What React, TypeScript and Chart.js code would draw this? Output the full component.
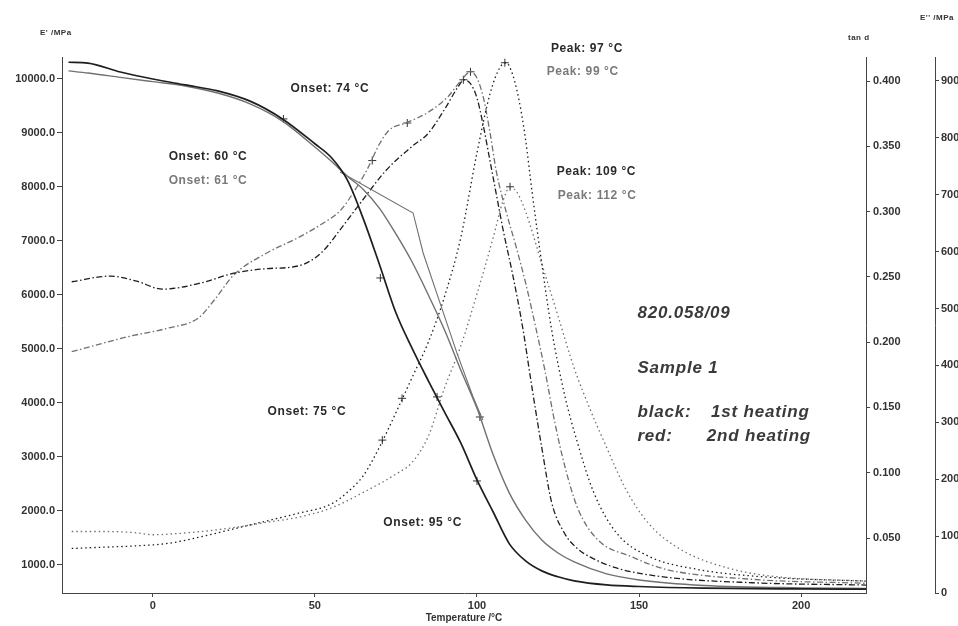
import React, { useEffect, useRef } from "react";
import { Chart, registerables } from "chart.js";

Chart.register(...registerables);

// ---------- tick values ----------
const X_TICKS = [0, 50, 100, 150, 200];
const STORAGE_TICKS = [1000, 2000, 3000, 4000, 5000, 6000, 7000, 8000, 9000, 10000];
const TAN_TICKS = [0.05, 0.1, 0.15, 0.2, 0.25, 0.3, 0.35, 0.4];
const LOSS_TICKS = [0, 100, 200, 300, 400, 500, 600, 700, 800, 900];

// ---------- E' storage modulus (MPa) ----------
const STORAGE_T = [-26, -20, -10, 0, 10, 20, 30, 40, 50, 55, 60, 65, 70, 75, 80, 85, 90, 95, 100, 105, 110, 115, 120, 125, 130, 140, 150, 170, 200, 220];
const STORAGE_1ST = [10310, 10295, 10130, 10000, 9890, 9780, 9590, 9260, 8800, 8550, 8130, 7400, 6550, 5670, 5010, 4410, 3830, 3260, 2575, 1980, 1390, 1075, 890, 780, 705, 630, 600, 570, 555, 550];
const STORAGE_2ND = [10150, 10110, 10030, 9950, 9870, 9740, 9540, 9220, 8740, 8480, 8200, 7950, 7600, 7130, 6610, 6000, 5350, 4610, 3900, 3040, 2330, 1830, 1460, 1220, 1055, 833, 722, 620, 575, 565];
const STORAGE_2ND_B_T = [57.8, 80.3, 83.4, 88.6, 93.8, 98.8, 101.8];
const STORAGE_2ND_B = [8278, 7518, 6777, 5852, 4926, 4111, 3685];
const STORAGE_MARK_T = [40.3, 70.2, 87.7, 100, 100.9];
const STORAGE_MARK = [9260, 6315, 4111, 2555, 3740];

// ---------- tan d ----------
const TAN_1ST_T = [-25, -15, -5, 5, 15, 25, 35, 45, 55, 60, 65, 70, 75, 80, 85, 90, 95, 100, 104, 107, 109, 111, 113, 115, 117, 120, 123, 127, 131, 136, 143, 153, 168, 190, 220];
const TAN_1ST = [0.042, 0.043, 0.044, 0.046, 0.051, 0.057, 0.063, 0.069, 0.076, 0.085, 0.098, 0.12, 0.146, 0.173, 0.2, 0.235, 0.28, 0.345, 0.39, 0.41, 0.414, 0.405, 0.385, 0.355, 0.315, 0.26, 0.21, 0.16, 0.123, 0.085, 0.054, 0.036, 0.026, 0.02, 0.017];
const TAN_2ND_T = [-25, -15, -5, 0, 5, 15, 25, 35, 45, 55, 65, 75, 80, 85, 90, 95, 100, 105, 108, 110, 112, 115, 120, 125, 130, 135, 139, 146, 153, 163, 179, 194, 220];
const TAN_2ND = [0.055, 0.055, 0.054, 0.0525, 0.053, 0.055, 0.058, 0.062, 0.066, 0.073, 0.085, 0.099, 0.108, 0.128, 0.165, 0.197, 0.237, 0.28, 0.308, 0.318, 0.316, 0.3, 0.26, 0.22, 0.18, 0.148, 0.125, 0.087, 0.061, 0.041, 0.026, 0.02, 0.017];
const TAN_MARK_T = [70.8, 76.9, 108.6, 110.2];
const TAN_MARK = [0.125, 0.157, 0.414, 0.319];

// ---------- E'' loss modulus (MPa) ----------
const LOSS_1ST_T = [-25, -13, -5, 3, 15, 25, 35, 45, 52, 58, 64, 72, 80, 85, 90, 94, 96, 98, 100, 102, 104, 106, 108, 111, 114, 117, 120, 123, 127, 131, 135, 143, 158, 185, 220];
const LOSS_1ST = [547, 557, 548, 534, 545, 562, 570, 575, 598, 640, 685, 743, 785, 808, 850, 888, 902, 895, 870, 820, 760, 700, 640, 560, 470, 360, 255, 160, 105, 78, 63, 44, 28, 18, 14];
const LOSS_2ND_T = [-25, -8, 5, 14, 19, 25, 35, 45, 52, 58, 62, 66, 70, 73, 78, 85, 91, 95, 98, 100, 102, 104, 106, 109, 112, 115, 118, 121, 124, 127, 131, 137, 148, 158, 185, 220];
const LOSS_2ND = [424, 450, 466, 483, 515, 559, 597, 625, 648, 673, 705, 743, 790, 814, 826, 845, 872, 900, 916, 905, 870, 810, 740, 670, 610, 545, 470, 390, 300, 225, 150, 95, 63, 42, 24, 17];
const LOSS_MARK_T = [67.7, 78.5, 95.8, 98];
const LOSS_MARK = [760, 826, 902, 916];

// ---------- annotation texts ----------
const NOTES = [
  { text: "Onset: 74 °C", t: 42.5, v: 9815, first: true },
  { text: "Onset: 60 °C", t: 4.9, v: 8555, first: true },
  { text: "Onset: 61 °C", t: 4.9, v: 8110, first: false },
  { text: "Peak: 97 °C", t: 122.8, v: 10555, first: true },
  { text: "Peak: 99 °C", t: 121.5, v: 10130, first: false },
  { text: "Peak: 109 °C", t: 124.6, v: 8278, first: true },
  { text: "Peak: 112 °C", t: 124.9, v: 7833, first: false },
  { text: "Onset: 75 °C", t: 35.4, v: 3833, first: true },
  { text: "Onset: 95 °C", t: 71.1, v: 1778, first: true },
];
const INFO = [
  { text: "820.058/09", t: 149.5, v: 5667 },
  { text: "Sample 1", t: 149.5, v: 4648 },
  { text: "black:", t: 149.5, v: 3833 },
  { text: "1st heating", t: 172.2, v: 3833 },
  { text: "red:", t: 149.5, v: 3389 },
  { text: "2nd heating", t: 170.9, v: 3389 },
];

const FONT = "'Liberation Sans', Arial, sans-serif";
const C1 = "#1e1e1e";
const C2 = "#707070";
const TEXT = "#333333";
const AXIS = "#444444";

const pts = (xs: number[], ys: number[]) => xs.map((x, i) => ({ x, y: ys[i] }));

const textPlugin = {
  id: "texts",
  afterDraw(chart: any) {
    const { ctx, scales } = chart;
    const xs = scales.x;
    const ys = scales.yE;
    ctx.save();
    ctx.textBaseline = "middle";
    ctx.textAlign = "left";
    (ctx as any).letterSpacing = "0.6px";
    ctx.font = `bold 12px ${FONT}`;
    for (const n of NOTES) {
      ctx.fillStyle = n.first ? "#2a2a2a" : "#7a7a7a";
      ctx.fillText(n.text, xs.getPixelForValue(n.t), ys.getPixelForValue(n.v));
    }
    ctx.font = `italic bold 17px ${FONT}`;
    (ctx as any).letterSpacing = "0.8px";
    ctx.fillStyle = "#3a3a3a";
    for (const n of INFO) {
      ctx.fillText(n.text, xs.getPixelForValue(n.t), ys.getPixelForValue(n.v));
    }
    (ctx as any).letterSpacing = "0.5px";
    ctx.font = `bold 8px ${FONT}`;
    ctx.fillStyle = TEXT;
    ctx.fillText("E' /MPa", 40, 33);
    ctx.fillText("tan d", 848, 38);
    ctx.fillText("E'' /MPa", 920, 18);
    ctx.restore();
  },
};

const lineDs = (label: string, xs: number[], ys: number[], axis: string, color: string, width: number, dash: number[]) => ({
  label,
  data: pts(xs, ys),
  yAxisID: axis,
  borderColor: color,
  borderWidth: width,
  borderDash: dash,
  pointRadius: 0,
  cubicInterpolationMode: "monotone",
});

const markDs = (label: string, xs: number[], ys: number[], axis: string) => ({
  label,
  data: pts(xs, ys),
  yAxisID: axis,
  showLine: false,
  pointStyle: "cross",
  pointRadius: 4,
  pointBorderWidth: 1,
  pointBorderColor: "#333",
  borderColor: "#333",
});

export default function App() {
  const ref = useRef<HTMLCanvasElement>(null);
  useEffect(() => {
    document.body.style.margin = "0";
    const canvas = ref.current!;
    const tickFont = { family: FONT, size: 11, weight: "bold" as const };
    const common = (w: number) => ({
      afterFit: (s: any) => {
        s.width = w;
      },
      grid: { display: true, drawOnChartArea: false, drawTicks: true, tickLength: 4, color: AXIS },
      border: { display: true, color: AXIS, width: 1 },
    });
    const chart = new Chart(canvas, {
      type: "line",
      data: {
        datasets: [
          lineDs("E' 1st heating", STORAGE_T, STORAGE_1ST, "yE", C1, 1.7, []),
          lineDs("E' 2nd heating", STORAGE_T, STORAGE_2ND, "yE", C2, 1.4, []),
          { ...lineDs("E' 2nd heating (b)", STORAGE_2ND_B_T, STORAGE_2ND_B, "yE", C2, 1.1, []), cubicInterpolationMode: "default", tension: 0 },
          lineDs("tan d 1st heating", TAN_1ST_T, TAN_1ST, "yTan", C1, 1.3, [1.5, 3]),
          lineDs("tan d 2nd heating", TAN_2ND_T, TAN_2ND, "yTan", C2, 1.3, [1.5, 3]),
          lineDs("E'' 1st heating", LOSS_1ST_T, LOSS_1ST, "yLoss", C1, 1.3, [6, 2.5, 1.5, 2.5]),
          lineDs("E'' 2nd heating", LOSS_2ND_T, LOSS_2ND, "yLoss", C2, 1.3, [6, 2.5, 1.5, 2.5]),
          markDs("E' marks", STORAGE_MARK_T, STORAGE_MARK, "yE"),
          markDs("tan d marks", TAN_MARK_T, TAN_MARK, "yTan"),
          markDs("E'' marks", LOSS_MARK_T, LOSS_MARK, "yLoss"),
        ] as any,
      },
      options: {
        responsive: false,
        animation: false,
        layout: { padding: { top: 57, left: 0, right: 0, bottom: 0 } },
        plugins: { legend: { display: false }, tooltip: { enabled: false }, title: { display: false } },
        scales: {
          x: {
            type: "linear",
            position: "bottom",
            min: -28,
            max: 220,
            afterBuildTicks: (s: any) => {
              s.ticks = X_TICKS.map((v) => ({ value: v }));
            },
            afterFit: (s: any) => {
              s.height = 33;
            },
            grid: { display: true, drawOnChartArea: false, drawTicks: true, tickLength: 4, color: AXIS },
            border: { display: true, color: AXIS, width: 1 },
            ticks: { font: tickFont, color: TEXT, padding: 2, maxRotation: 0, autoSkip: false, callback: (v: any) => String(v) },
            title: { display: true, text: "Temperature /°C", font: { family: FONT, size: 10, weight: "bold" }, color: TEXT, padding: { top: 0, bottom: 2 } },
          },
          yE: {
            type: "linear",
            position: "left",
            min: 480,
            max: 10407,
            afterBuildTicks: (s: any) => {
              s.ticks = STORAGE_TICKS.map((v) => ({ value: v }));
            },
            ...common(62),
            grid: { display: true, drawOnChartArea: false, drawTicks: true, tickLength: 5, color: AXIS },
            ticks: { font: tickFont, color: TEXT, padding: 2, autoSkip: false, callback: (v: any) => Number(v).toFixed(1) },
          },
          yTan: {
            type: "linear",
            position: "right",
            weight: 1,
            min: 0.0079,
            max: 0.4184,
            afterBuildTicks: (s: any) => {
              s.ticks = TAN_TICKS.map((v) => ({ value: v }));
            },
            ...common(69),
            ticks: { font: tickFont, color: TEXT, padding: 3, autoSkip: false, callback: (v: any) => Number(v).toFixed(3) },
          },
          yLoss: {
            type: "linear",
            position: "right",
            weight: 2,
            min: 0,
            max: 942,
            afterBuildTicks: (s: any) => {
              s.ticks = LOSS_TICKS.map((v) => ({ value: v }));
            },
            ...common(23),
            ticks: { font: tickFont, color: TEXT, padding: 2, autoSkip: false, callback: (v: any) => String(v) },
          },
        },
      } as any,
      plugins: [textPlugin],
    });
    return () => chart.destroy();
  }, []);
  return (
    <div style={{ position: "fixed", left: 0, top: 0, width: 958, height: 626, background: "#fff" }}>
      <canvas ref={ref} width={958} height={626} style={{ display: "block", width: 958, height: 626 }} />
    </div>
  );
}
